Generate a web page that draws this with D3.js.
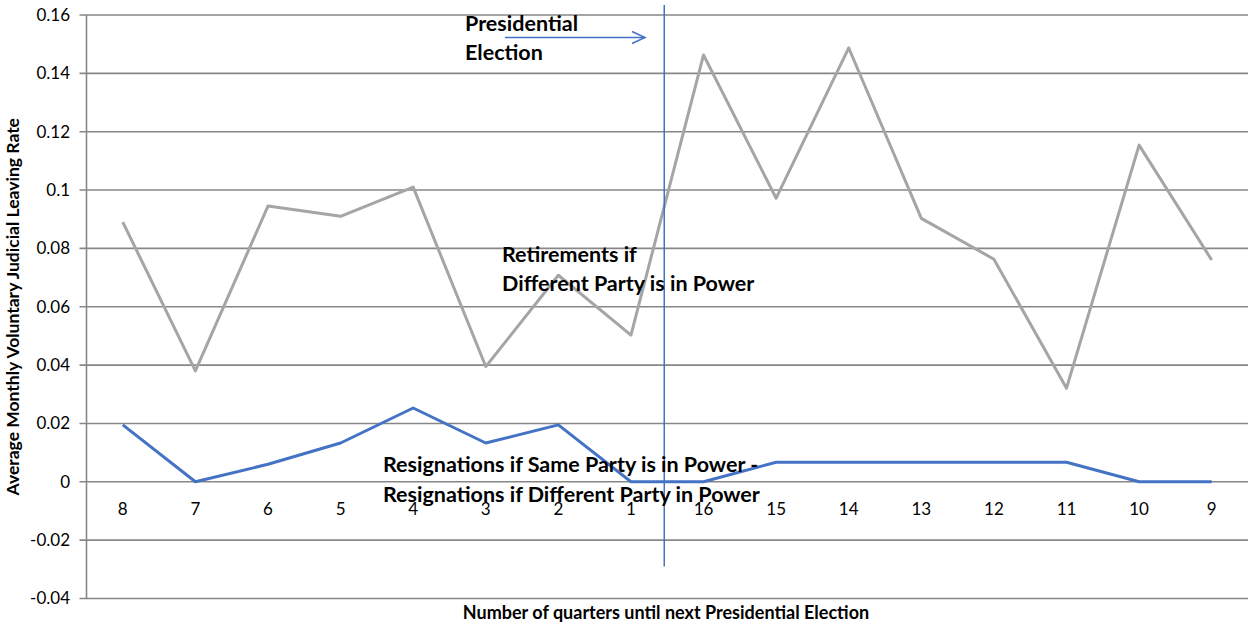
<!DOCTYPE html>
<html>
<head>
<meta charset="utf-8">
<script src="https://cdn.jsdelivr.net/npm/d3@7"></script>
<style>
  html, body { margin: 0; padding: 0; background: #fff; }
  svg { display: block; font-family: Lato, "Open Sans", sans-serif; }
</style>
</head>
<body>
<svg id="chart" width="1249" height="627"></svg>
<script>
// Quarters until next presidential election, in plotted order
const quarters = ["8", "7", "6", "5", "4", "3", "2", "1", "16", "15", "14", "13", "12", "11", "10", "9"];
// Retirements if a different party is in power
const retirements = [0.089, 0.038, 0.0945, 0.091, 0.101, 0.0395, 0.0708, 0.0503, 0.1463, 0.0972, 0.1487, 0.0903, 0.0763, 0.0321, 0.1154, 0.076];
// Resignations (same party) minus resignations (different party)
const resignDiff = [0.0195, 0, 0.006, 0.0133, 0.0253, 0.0133, 0.0195, 0, 0, 0.0067, 0.0067, 0.0067, 0.0067, 0.0067, 0, 0];
const yTicks = [-0.04, -0.02, 0, 0.02, 0.04, 0.06, 0.08, 0.1, 0.12, 0.14, 0.16];

const svg = d3.select("#chart");
const margin = { left: 86.5, right: 1, top: 15, bottom: 28.5 };
const W = 1249, H = 627;

const x = d3.scaleBand().domain(quarters).range([margin.left, W - margin.right]).padding(0);
const y = d3.scaleLinear().domain([-0.04, 0.16]).range([H - margin.bottom, margin.top]);
const cx = d => x(d) + x.bandwidth() / 2;

// Gridlines
svg.append("g")
  .selectAll("line").data(yTicks).join("line")
  .attr("x1", margin.left - 7).attr("x2", W - margin.right)
  .attr("y1", d => y(d)).attr("y2", d => y(d))
  .attr("stroke", "#878787").attr("stroke-width", 1.6);

// Y axis line
svg.append("line")
  .attr("x1", margin.left).attr("x2", margin.left)
  .attr("y1", y(0.16)).attr("y2", y(-0.04))
  .attr("stroke", "#878787").attr("stroke-width", 1.6);

// Y tick labels
const yFmt = d => d === 0 ? "0" : String(+d.toFixed(2));
svg.append("g")
  .selectAll("text").data(yTicks).join("text")
  .attr("x", 70).attr("y", d => y(d))
  .attr("dy", "0.35em").attr("text-anchor", "end")
  .attr("font-size", 17).attr("fill", "#000")
  .text(yFmt);

// X category labels, just below the zero line
svg.append("g")
  .selectAll("text").data(quarters).join("text")
  .attr("x", d => cx(d)).attr("y", y(0) + 27)
  .attr("dy", "0.35em").attr("text-anchor", "middle")
  .attr("font-size", 17).attr("fill", "#000")
  .text(d => d);

// Series lines
const line = vals => d3.line().x((d, i) => cx(quarters[i])).y(d => y(d))(vals);
svg.append("path").attr("d", line(retirements))
  .attr("fill", "none").attr("stroke", "#a5a5a5").attr("stroke-width", 3).attr("stroke-linejoin", "round");
svg.append("path").attr("d", line(resignDiff))
  .attr("fill", "none").attr("stroke", "#4472c4").attr("stroke-width", 3).attr("stroke-linejoin", "round");

// Election marker between quarter 1 and quarter 16
const electionX = x("16") - 3;
svg.append("line")
  .attr("x1", electionX).attr("x2", electionX)
  .attr("y1", 5).attr("y2", y(-0.029))
  .attr("stroke", "#4472c4").attr("stroke-width", 1.5);

// Arrow pointing at the election marker
const arrowY = 37.5, ax1 = 505, ax2 = 645;
svg.append("line").attr("x1", ax1).attr("x2", ax2).attr("y1", arrowY).attr("y2", arrowY)
  .attr("stroke", "#4472c4").attr("stroke-width", 1.5);
svg.append("path")
  .attr("d", `M${ax2 - 13},${arrowY - 6} L${ax2},${arrowY} L${ax2 - 13},${arrowY + 6}`)
  .attr("fill", "none").attr("stroke", "#4472c4").attr("stroke-width", 1.5);

// Annotations
function label(lines, x0, y0, lh) {
  const t = svg.append("text").attr("font-size", 21.5).attr("font-weight", "bold").attr("fill", "#000");
  lines.forEach((s, i) => t.append("tspan").attr("x", x0).attr("y", y0 + i * lh).text(s));
}
label(["Presidential", "Election"], 465, 31, 29);
label(["Retirements if", "Different Party is in Power"], 502, 262, 28.5);
label(["Resignations if Same Party is in Power -", "Resignations if Different Party in Power"], 383, 472, 29.5);

// Axis titles
svg.append("text")
  .attr("transform", `translate(19,${(y(0.16) + y(-0.04)) / 2}) rotate(-90)`)
  .attr("text-anchor", "middle").attr("font-size", 17.5).attr("font-weight", "bold")
  .text("Average Monthly Voluntary  Judicial Leaving Rate");
svg.append("text")
  .attr("x", 666).attr("y", 619).attr("text-anchor", "middle")
  .attr("font-size", 18).attr("font-weight", "bold")
  .text("Number of quarters until  next Presidential  Election");
</script>
</body>
</html>
